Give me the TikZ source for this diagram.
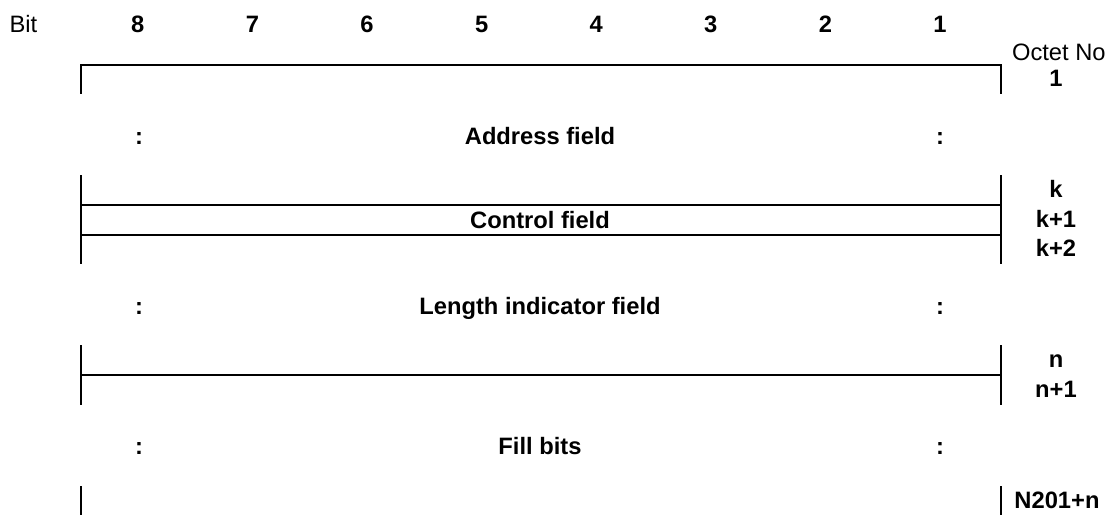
\documentclass[tikz,border=0pt]{standalone}
\usepackage{fontspec}
\setmainfont{Liberation Sans}
\usetikzlibrary{positioning}
\pgfmathsetmacro{\leftX}{81}
\pgfmathsetmacro{\rightX}{1001}
\pgfmathsetmacro{\bitStep}{114.6}
\tikzset{
	plain/.style= {
		font=\fontsize{13.5}{16}\selectfont,
		inner sep=0, text height=9.7pt, text depth=0pt
	},
	field/.style= {plain, font=\bfseries\fontsize{13.5}{16}\selectfont},
	frame/.style= {line width=1.1pt, line cap=rect}
}

\begin{document}
\begin{tikzpicture}[x=0.02cm,y=-0.02cm]
\useasboundingbox (0,0) rectangle (1112,514);
% header
\node[plain] (bit) at (23.5,24) {Bit};
\foreach \b in {1,...,8}{%
	\node[field] (bit\b) at ({940-(\b-1)*\bitStep},24) {\b};
}
\node[plain, anchor=east] (octetNo) at (1106,52) {Octet No};

% frame
\draw[frame] (\leftX,93) -- (\leftX,65) -- (\rightX,65) -- (\rightX,93);
\draw[frame] (\leftX,176) -- (\leftX,263);
\draw[frame] (\rightX,176) -- (\rightX,263);
\draw[frame] (\leftX,205) -- (\rightX,205);
\draw[frame] (\leftX,235) -- (\rightX,235);
\draw[frame] (\leftX,346) -- (\leftX,404);
\draw[frame] (\rightX,346) -- (\rightX,404);
\draw[frame] (\leftX,375) -- (\rightX,375);
\draw[frame] (\leftX,487) -- (\leftX,514);
\draw[frame] (\rightX,487) -- (\rightX,514);

% fields
\foreach \y/\name/\txt in {136/addr/Address field, 306/len/Length indicator field, 446/fill/Fill bits}{%
	\node[field] (\name) at (540,\y) {\txt};
	\node[field] (\name L) at (139,\y) {:};
	\node[field] (\name R) at (940,\y) {:};
}
\node[field] (ctrl) at (540,220) {Control field};

% octet numbers
\foreach \y/\name/\txt in {78/o1/1, 189/ok/k, 219/ok1/k+1, 248/ok2/k+2, 359/on/n, 389/on1/n+1}{%
	\node[field] (\name) at (1056,\y) {\txt};
}
\node[field] (oN) at (1057,500) {N201+n};
\end{tikzpicture}
\end{document}
